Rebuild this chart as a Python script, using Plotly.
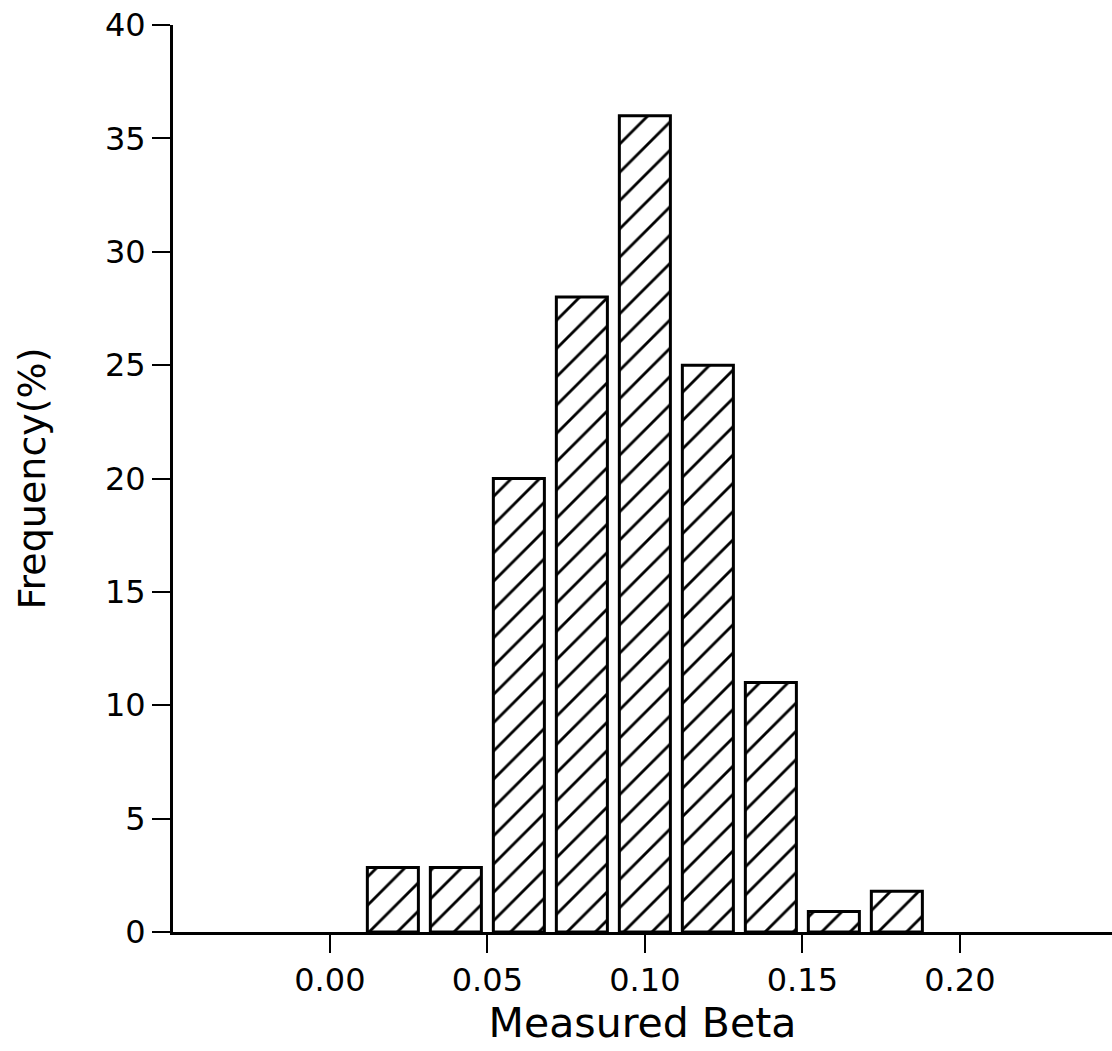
import plotly.graph_objects as go

beta_centers = [0.02, 0.04, 0.06, 0.08, 0.10, 0.12, 0.14, 0.16, 0.18]
frequency_pct = [2.85, 2.85, 20, 28, 36, 25, 11, 0.9, 1.8]
x_tick_vals = [0.00, 0.05, 0.10, 0.15, 0.20]
x_tick_text = ["0.00", "0.05", "0.10", "0.15", "0.20"]
y_tick_vals = [0, 5, 10, 15, 20, 25, 30, 35, 40]

FONT = "DejaVu Sans, sans-serif"

fig = go.Figure()
fig.add_trace(go.Bar(
    x=beta_centers,
    y=frequency_pct,
    width=0.0162,
    marker=dict(
        color="white",
        line=dict(color="black", width=3),
        pattern=dict(shape="/", fgcolor="black", bgcolor="white", fgopacity=1,
                     size=20, solidity=0.14),
    ),
))

fig.update_layout(
    width=1112, height=1051,
    margin=dict(l=173, r=0, t=25, b=119),
    paper_bgcolor="white", plot_bgcolor="white",
    showlegend=False,
    font=dict(family=FONT, color="black", size=31),
    xaxis=dict(
        range=[-0.0498, 0.2483],
        tickvals=x_tick_vals, ticktext=x_tick_text,
        showline=True, linecolor="black", linewidth=3,
        ticks="outside", ticklen=18, tickwidth=2, tickcolor="black",
        showgrid=False, zeroline=False,
        tickfont=dict(size=32),
        title=dict(text="Measured Beta", font=dict(size=41), standoff=10),
    ),
    yaxis=dict(
        range=[0, 40],
        tickvals=y_tick_vals,
        showline=True, linecolor="black", linewidth=3,
        ticks="outside", ticklen=18, tickwidth=2, tickcolor="black",
        showgrid=False, zeroline=False,
        tickfont=dict(size=32),
        title=dict(text="Frequency(%)", font=dict(size=38), standoff=48),
    ),
)

fig.write_html("out.html")
